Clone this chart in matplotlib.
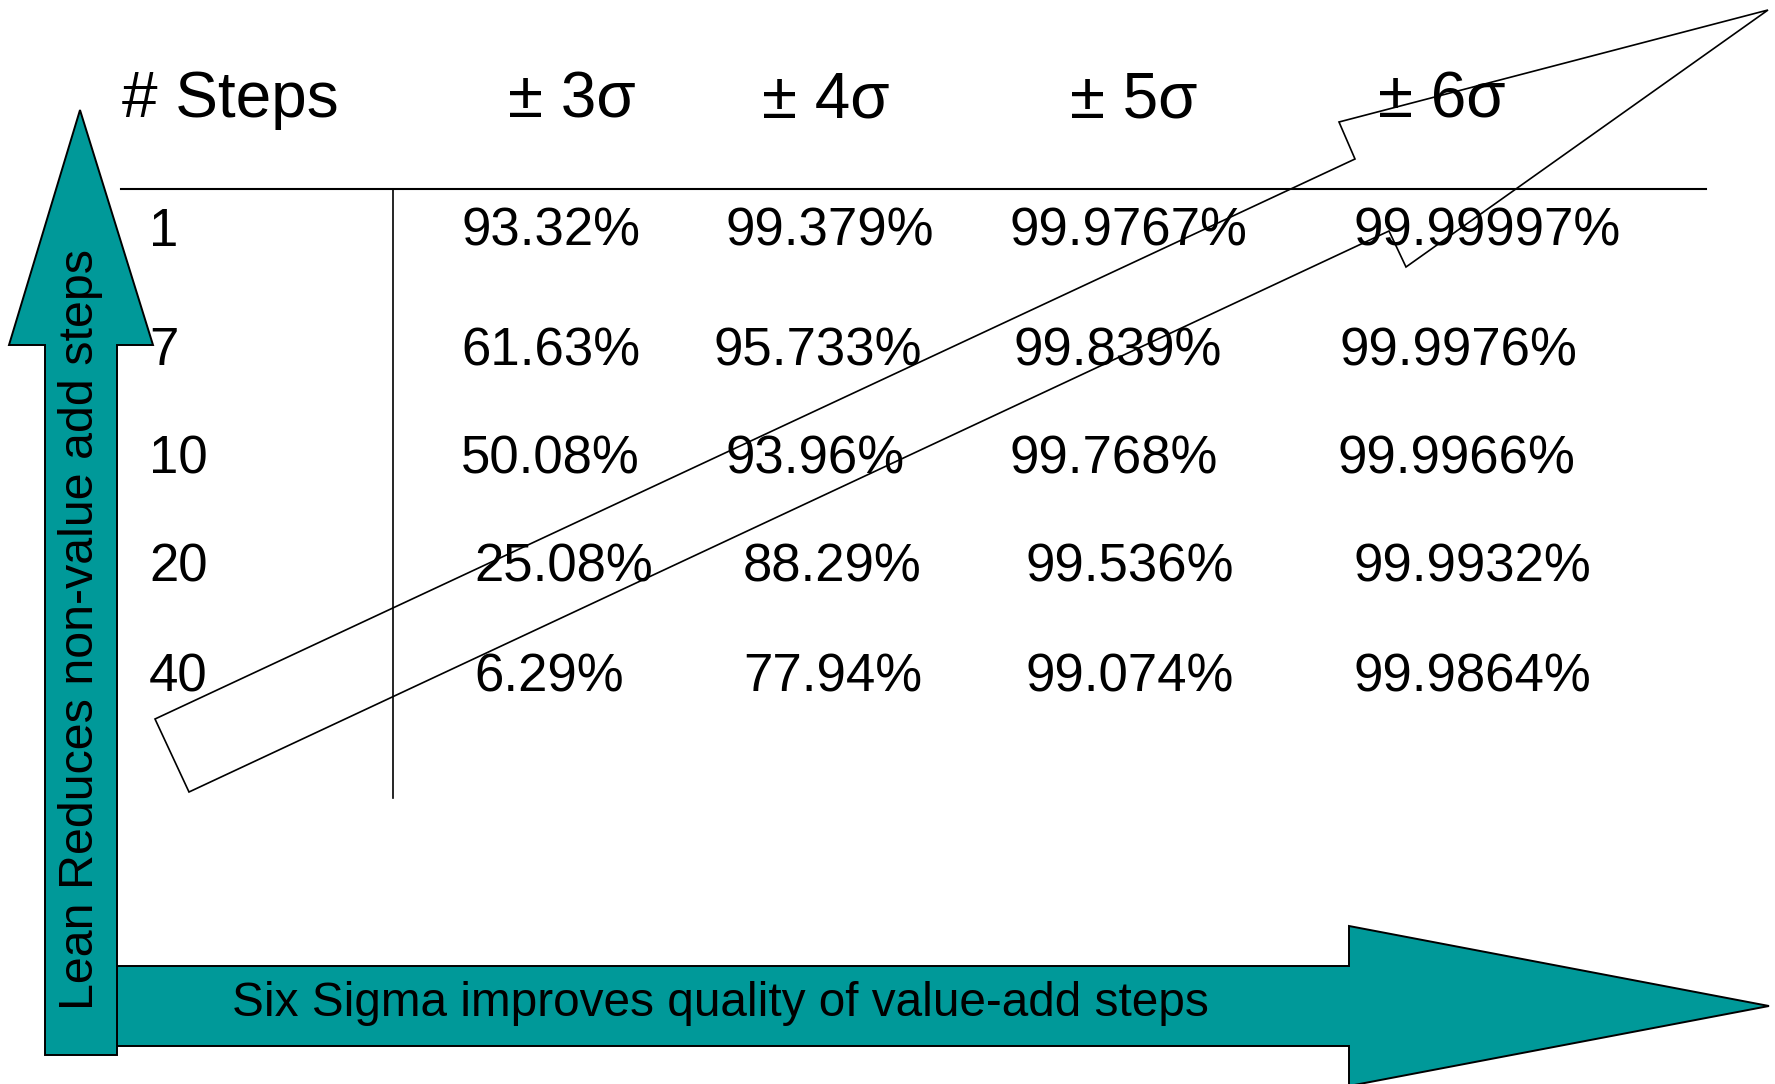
import matplotlib
matplotlib.use('Agg')
import matplotlib.pyplot as plt
from matplotlib.patches import Polygon

plt.rcParams['font.family'] = ['Liberation Sans', 'DejaVu Sans']

# table contents
steps = ['1', '7', '10', '20', '40']
sigma_cols = ['± 3σ', '± 4σ', '± 5σ', '± 6σ']
yield_3s = ['93.32%', '61.63%', '50.08%', '25.08%', '6.29%']
yield_4s = ['99.379%', '95.733%', '93.96%', '88.29%', '77.94%']
yield_5s = ['99.9767%', '99.839%', '99.768%', '99.536%', '99.074%']
yield_6s = ['99.99997%', '99.9976%', '99.9966%', '99.9932%', '99.9864%']
lean_label = 'Lean Reduces non-value add steps'
sigma_label = 'Six Sigma improves quality of value-add steps'

TEAL = '#009999'
W, H = 1775, 1084

fig = plt.figure(figsize=(W / 100, H / 100), dpi=100)
ax = fig.add_axes([0, 0, 1, 1])
ax.set_xlim(0, W)
ax.set_ylim(H, 0)
ax.axis('off')

# layout in pixel space (y down)
head_y = 117
row_y = [246, 365, 473, 582, 691]
step_x = 149
head_x = [508, 762, 1070, 1378]
col_x = [
    [461, 461, 461, 474, 474],
    [726, 714, 726, 743, 743],
    [1010, 1013, 1010, 1026, 1026],
    [1353, 1340, 1337, 1354, 1354],
]

# teal arrows: vertical (lean) and horizontal (six sigma)
vert = [(45, 1055), (117, 1055), (117, 345), (153, 345), (80, 110),
        (9, 345), (45, 345)]
horiz = [(117, 966), (1349, 966), (1349, 926), (1769, 1006),
         (1349, 1086), (1349, 1046), (117, 1046)]
ax.add_patch(Polygon(horiz, closed=True, fc=TEAL, ec='black', lw=1.4, zorder=1))
ax.add_patch(Polygon(vert, closed=True, fc=TEAL, ec='black', lw=1.4, zorder=1))

ax.text(81, 630, lean_label, rotation=90, ha='center', va='center',
        fontsize=34.8, color='black', zorder=3)
ax.text(232, 1003, sigma_label, ha='left', va='center',
        fontsize=34.4, color='black', zorder=3)

# table rules
ax.plot([121, 1706], [189, 189], color='black', lw=1.5, zorder=2)
ax.plot([393, 393], [189, 798], color='black', lw=1.2, zorder=2)

# header
ax.text(122, head_y, '# Steps', ha='left', va='baseline', fontsize=46, zorder=3)
for x, lab in zip(head_x, sigma_cols):
    ax.text(x, head_y, lab, ha='left', va='baseline', fontsize=46, zorder=3)

# rows
cols = [yield_3s, yield_4s, yield_5s, yield_6s]
for i, s in enumerate(steps):
    ax.text(step_x, row_y[i], s, ha='left', va='baseline', fontsize=38, zorder=3)
    for j, col in enumerate(cols):
        ax.text(col_x[j][i], row_y[i], col[i], ha='left', va='baseline',
                fontsize=38, zorder=3)

# outlined diagonal arrow over the table
diag = [(155, 719), (1355, 159), (1339, 122), (1768, 10),
        (1406, 267), (1389, 231), (189, 792)]
ax.add_patch(Polygon(diag, closed=True, fill=False, ec='black', lw=1.2, zorder=4))

plt.savefig('out.png', dpi=100)
plt.close()
